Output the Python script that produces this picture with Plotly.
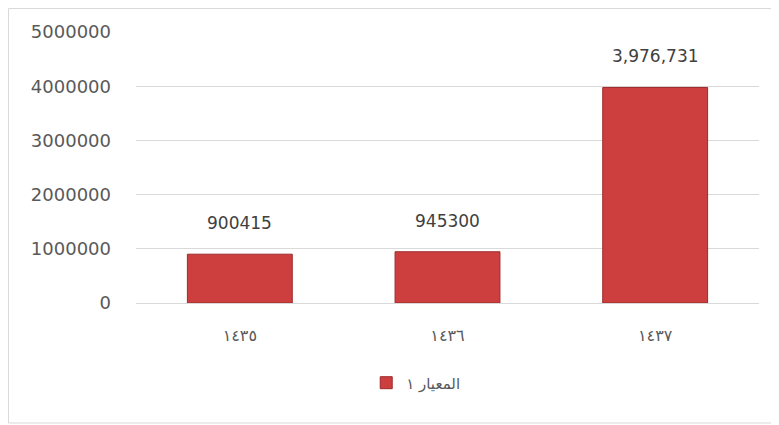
import plotly.graph_objects as go

categories = ["١٤٣٥", "١٤٣٦", "١٤٣٧"]
values = [900415, 945300, 3976731]
value_labels = ["900415", "945300", "3,976,731"]
series_name = "المعيار ١"
y_ticks = [0, 1000000, 2000000, 3000000, 4000000, 5000000]

fig = go.Figure()
fig.add_trace(go.Bar(
    x=categories, y=values, name=series_name,
    marker=dict(color="#CC3F3E", line=dict(color="#9E2A2A", width=1)),
    showlegend=True,
))

for c, v, t in zip(categories, values, value_labels):
    fig.add_annotation(x=c, y=v, text=t, showarrow=False, yshift=31,
                       font=dict(family="DejaVu Sans", size=17, color="#404040"))

fig.add_shape(type="rect", xref="paper", yref="paper",
              x0=-0.2047, x1=1.0313, y0=-0.4428, y1=1.0867,
              line=dict(color="#D9D9D9", width=1), layer="below")

fig.update_layout(
    width=771, height=417,
    margin=dict(l=128, r=20, t=24, b=122),
    paper_bgcolor="white", plot_bgcolor="white",
    bargap=0.495,
    font=dict(family="DejaVu Sans", color="#595959"),
    legend=dict(orientation="h", x=0.449, xanchor="center", y=-0.295, yanchor="middle",
                font=dict(size=15, color="#595959"), itemwidth=30),
    xaxis=dict(showgrid=False, showline=True, linecolor="#D9D9D9", linewidth=1,
               tickfont=dict(size=16, color="#595959"), ticklabelstandoff=18,
               ticks=""),
    yaxis=dict(range=[0, 5000000], tickvals=y_ticks, ticktext=[str(v) for v in y_ticks],
               showgrid=True, gridcolor="#D9D9D9", gridwidth=1,
               zeroline=True, zerolinecolor="#D9D9D9", zerolinewidth=1,
               tickfont=dict(size=18, color="#595959"), ticklabelstandoff=24,
               ticks=""),
)

fig.write_html("out.html")
